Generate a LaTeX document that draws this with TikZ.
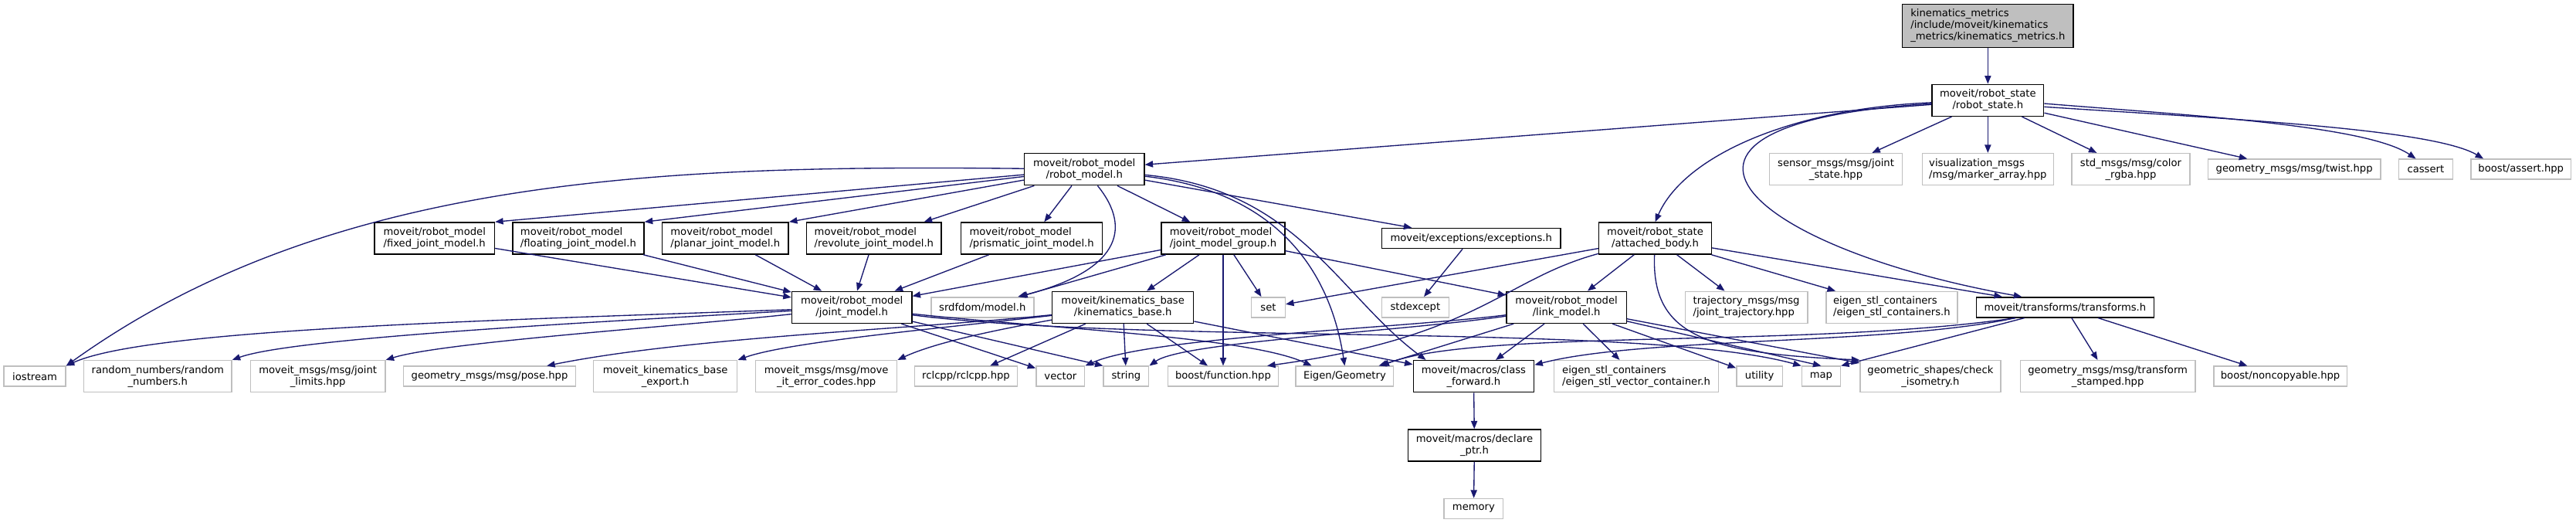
\documentclass[tikz,border=0pt]{standalone}
\usepackage{fontspec}
\setmainfont{DejaVu Sans}
\usetikzlibrary{arrows.meta}
\definecolor{edgeblue}{HTML}{191970}
\definecolor{sysgray}{HTML}{BFBFBF}
\tikzset{
  file/.style={draw=black, fill=white, line width=1pt, inner sep=0pt, align=center,
    font=\fontsize{8.8}{10}\selectfont},
  sys/.style={file, draw=sysgray},
  wd/.style={minimum width=#1*0.05cm},
  l1/.style={minimum height=0.61cm},
  l2/.style={minimum height=0.965cm},
  l3/.style={minimum height=1.31cm},
  dep/.style={draw=edgeblue, line width=0.9pt, -{Triangle[length=7pt,width=5.5pt]}}
}
\begin{document}
\begin{tikzpicture}[x=0.05cm,y=-0.05cm]
\path[use as bounding box, fill=white] (0,0) rectangle (1568,318.2);

\node[file,fill=sysgray,l3,wd=104,align=left] (km) at (1210,15.7) {kinematics\_metrics\\/include/moveit/kinematics\\\_metrics/kinematics\_metrics.h};
\node[file,l2,wd=68] (rs) at (1210,61) {moveit/robot\_state\\/robot\_state.h};

\node[file,l2,wd=73] (rm) at (660,103) {moveit/robot\_model\\/robot\_model.h};
\node[sys,l2,wd=81] (sensor) at (1117.5,103) {sensor\_msgs/msg/joint\\\_state.hpp};
\node[sys,l2,wd=80,align=left] (vis) at (1210,103) {visualization\_msgs\\/msg/marker\_array.hpp};
\node[sys,l2,wd=72] (rgba) at (1297,103) {std\_msgs/msg/color\\\_rgba.hpp};
\node[sys,l1,wd=105] (twist) at (1396.5,103) {geometry\_msgs/msg/twist.hpp};
\node[sys,l1,wd=33] (cassert) at (1476.5,103) {cassert};
\node[sys,l1,wd=61] (bassert) at (1534.5,103) {boost/assert.hpp};

\node[file,l2,wd=73,align=left] (fixed) at (264.5,145) {moveit/robot\_model\\/fixed\_joint\_model.h};
\node[file,l2,wd=80,align=left] (floating) at (352,145) {moveit/robot\_model\\/floating\_joint\_model.h};
\node[file,l2,wd=77,align=left] (planar) at (441.5,145) {moveit/robot\_model\\/planar\_joint\_model.h};
\node[file,l2,wd=82,align=left] (revolute) at (532,145) {moveit/robot\_model\\/revolute\_joint\_model.h};
\node[file,l2,wd=86,align=left] (prismatic) at (628,145) {moveit/robot\_model\\/prismatic\_joint\_model.h};
\node[file,l2,wd=75,align=left] (jmg) at (744.5,145) {moveit/robot\_model\\/joint\_model\_group.h};
\node[file,l1,wd=109] (exc) at (895.5,145) {moveit/exceptions/exceptions.h};
\node[file,l2,wd=68.5] (ab) at (1007.5,145) {moveit/robot\_state\\/attached\_body.h};

\node[file,l2,wd=73] (jm) at (518.5,187) {moveit/robot\_model\\/joint\_model.h};
\node[sys,l1,wd=62.5] (srdf) at (598,187) {srdfdom/model.h};
\node[file,l2,wd=86] (kb) at (683.5,187) {moveit/kinematics\_base\\/kinematics\_base.h};
\node[sys,l1,wd=20.5] (set) at (772,187) {set};
\node[sys,l1,wd=41] (stdexc) at (861.5,187) {stdexcept};
\node[file,l2,wd=73] (lm) at (953.5,187) {moveit/robot\_model\\/link\_model.h};
\node[sys,l2,wd=74.5,align=left] (traj) at (1063,187) {trajectory\_msgs/msg\\/joint\_trajectory.hpp};
\node[sys,l2,wd=80,align=left] (estl) at (1151.5,187) {eigen\_stl\_containers\\/eigen\_stl\_containers.h};
\node[file,l1,wd=108] (tr) at (1257,187) {moveit/transforms/transforms.h};

\node[sys,l1,wd=37.5] (iostream) at (21.2,229) {iostream};
\node[sys,l2,wd=90] (rand) at (96,229) {random\_numbers/random\\\_numbers.h};
\node[sys,l2,wd=82] (limits) at (193.5,229) {moveit\_msgs/msg/joint\\\_limits.hpp};
\node[sys,l1,wd=105] (pose) at (298,229) {geometry\_msgs/msg/pose.hpp};
\node[sys,l2,wd=87.5] (export) at (405,229) {moveit\_kinematics\_base\\\_export.h};
\node[sys,l2,wd=86] (errc) at (503,229) {moveit\_msgs/msg/move\\\_it\_error\_codes.hpp};
\node[sys,l1,wd=62.5] (rclcpp) at (588,229) {rclcpp/rclcpp.hpp};
\node[sys,l1,wd=29.5] (vector) at (645.5,229) {vector};
\node[sys,l1,wd=27.5] (string) at (685.5,229) {string};
\node[sys,l1,wd=67] (bfunc) at (744.5,229) {boost/function.hpp};
\node[sys,l1,wd=59.5] (eigen) at (818.5,229) {Eigen/Geometry};
\node[file,l2,wd=73.5] (cfwd) at (897,229) {moveit/macros/class\\\_forward.h};
\node[sys,l2,wd=100,align=left] (esvc) at (996,229) {eigen\_stl\_containers\\/eigen\_stl\_vector\_container.h};
\node[sys,l1,wd=28] (utility) at (1071,229) {utility};
\node[sys,l1,wd=23.5] (map) at (1108.5,229) {map};
\node[sys,l2,wd=85.5] (geom) at (1175,229) {geometric\_shapes/check\\\_isometry.h};
\node[sys,l2,wd=106.5] (tfst) at (1283,229) {geometry\_msgs/msg/transform\\\_stamped.hpp};
\node[sys,l1,wd=81] (noncp) at (1388,229) {boost/noncopyable.hpp};

\node[file,l2,wd=81] (decl) at (897.5,271) {moveit/macros/declare\\\_ptr.h};
\node[sys,l1,wd=36] (memory) at (897,309.5) {memory};

\draw[dep] (km) -- (rs);
\draw[dep] (rs) -- (rm);
\draw[dep] (rs) -- (sensor);
\draw[dep] (rs) -- (vis);
\draw[dep] (rs) -- (rgba);
\draw[dep] (rs) -- (twist);
\draw[dep] ([yshift=-0.1cm]rs.east) .. controls (1330,70) and (1440,76) .. ([xshift=-0.3cm]cassert.north);
\draw[dep] ([yshift=-0.2cm]rs.east) .. controls (1350,72) and (1480,78) .. ([xshift=0.4cm]bassert.north west);
\draw[dep] (rs) .. controls (1090,66) and (1025,95) .. (ab.north);
\draw[dep] (rs) .. controls (980,75) and (1060,150) .. ([xshift=1.4cm]tr.north west);

\draw[dep] (rm) .. controls (400,100) and (200,108) .. (iostream.north east);
\draw[dep] (rm) -- (fixed.north east);
\draw[dep] (rm) -- (floating.north east);
\draw[dep] (rm) -- (planar.north east);
\draw[dep] (rm) -- (revolute);
\draw[dep] (rm) -- (prismatic);
\draw[dep] (rm) -- (jmg);
\draw[dep] (rm) .. controls (690,140) and (680,165) .. ([xshift=-0.5cm]srdf.north east);
\draw[dep] (rm) -- (exc);
\draw[dep] (rm) .. controls (790,118) and (812,180) .. (eigen.north);
\draw[dep] (rm) .. controls (790,115) and (815,180) .. ([xshift=0.4cm]cfwd.north west);

\draw[dep] (fixed) -- (jm);
\draw[dep] (floating) -- (jm);
\draw[dep] (planar) -- (jm);
\draw[dep] (revolute) -- (jm);
\draw[dep] (prismatic) -- (jm);
\draw[dep] (jmg) -- (jm);
\draw[dep] (jmg) -- (srdf);
\draw[dep] (jmg) -- (kb);
\draw[dep] (jmg) -- (bfunc);
\draw[dep] (jmg) -- (set);
\draw[dep] (jmg) -- (lm);
\draw[dep] (exc) -- (stdexc);

\draw[dep] (ab) -- (set);
\draw[dep] (ab) -- (lm);
\draw[dep] (ab) -- (traj);
\draw[dep] (ab) -- (estl);
\draw[dep] (ab) -- (tr);
\draw[dep] (ab) .. controls (915,170) and (900,205) .. ([xshift=-0.35cm]bfunc.north east);
\draw[dep] (ab) .. controls (1005,205) and (1040,215) .. (geom.north west);

\draw[dep] (jm) .. controls (300,195) and (90,200) .. (iostream.north east);
\draw[dep] (jm) .. controls (380,195) and (180,205) .. (rand.north east);
\draw[dep] (jm) .. controls (420,198) and (270,208) .. (limits.north east);
\draw[dep] (jm) -- (vector);
\draw[dep] (jm) -- (string.north west);
\draw[dep] (jm) .. controls (640,200) and (760,205) .. ([xshift=0.5cm]eigen.north west);
\draw[dep] (jm) .. controls (700,210) and (1000,196) .. (map.north west);

\draw[dep] (kb) .. controls (560,200) and (420,205) .. ([xshift=-0.9cm]pose.north east);
\draw[dep] (kb) .. controls (570,200) and (480,208) .. (export.north east);
\draw[dep] (kb) .. controls (610,200) and (570,208) .. (errc.north east);
\draw[dep] (kb) -- (rclcpp);
\draw[dep] (kb) -- (string);
\draw[dep] (kb) -- (bfunc);
\draw[dep] (kb) -- (cfwd);

\draw[dep] (lm) .. controls (850,200) and (700,205) .. (vector.north east);
\draw[dep] (lm) .. controls (850,202) and (720,208) .. (string.north east);
\draw[dep] (lm) -- (eigen);
\draw[dep] (lm) -- (cfwd);
\draw[dep] (lm) -- (esvc);
\draw[dep] (lm) -- (utility);
\draw[dep] (lm) -- (map.north);
\draw[dep] (lm) -- (geom);

\draw[dep] ([xshift=1.2cm]tr.south west) .. controls (1150,210) and (1000,205) .. ([yshift=-0.15cm]cfwd.north east);
\draw[dep] ([xshift=1.2cm]tr.south west) .. controls (1100,212) and (900,200) .. ([xshift=-0.4cm]eigen.north east);
\draw[dep] (tr) -- (map.north east);
\draw[dep] (tr) -- (tfst);
\draw[dep] (tr) -- (noncp);

\draw[dep] (cfwd) -- (decl);
\draw[dep] (decl) -- (memory);
\end{tikzpicture}
\end{document}
